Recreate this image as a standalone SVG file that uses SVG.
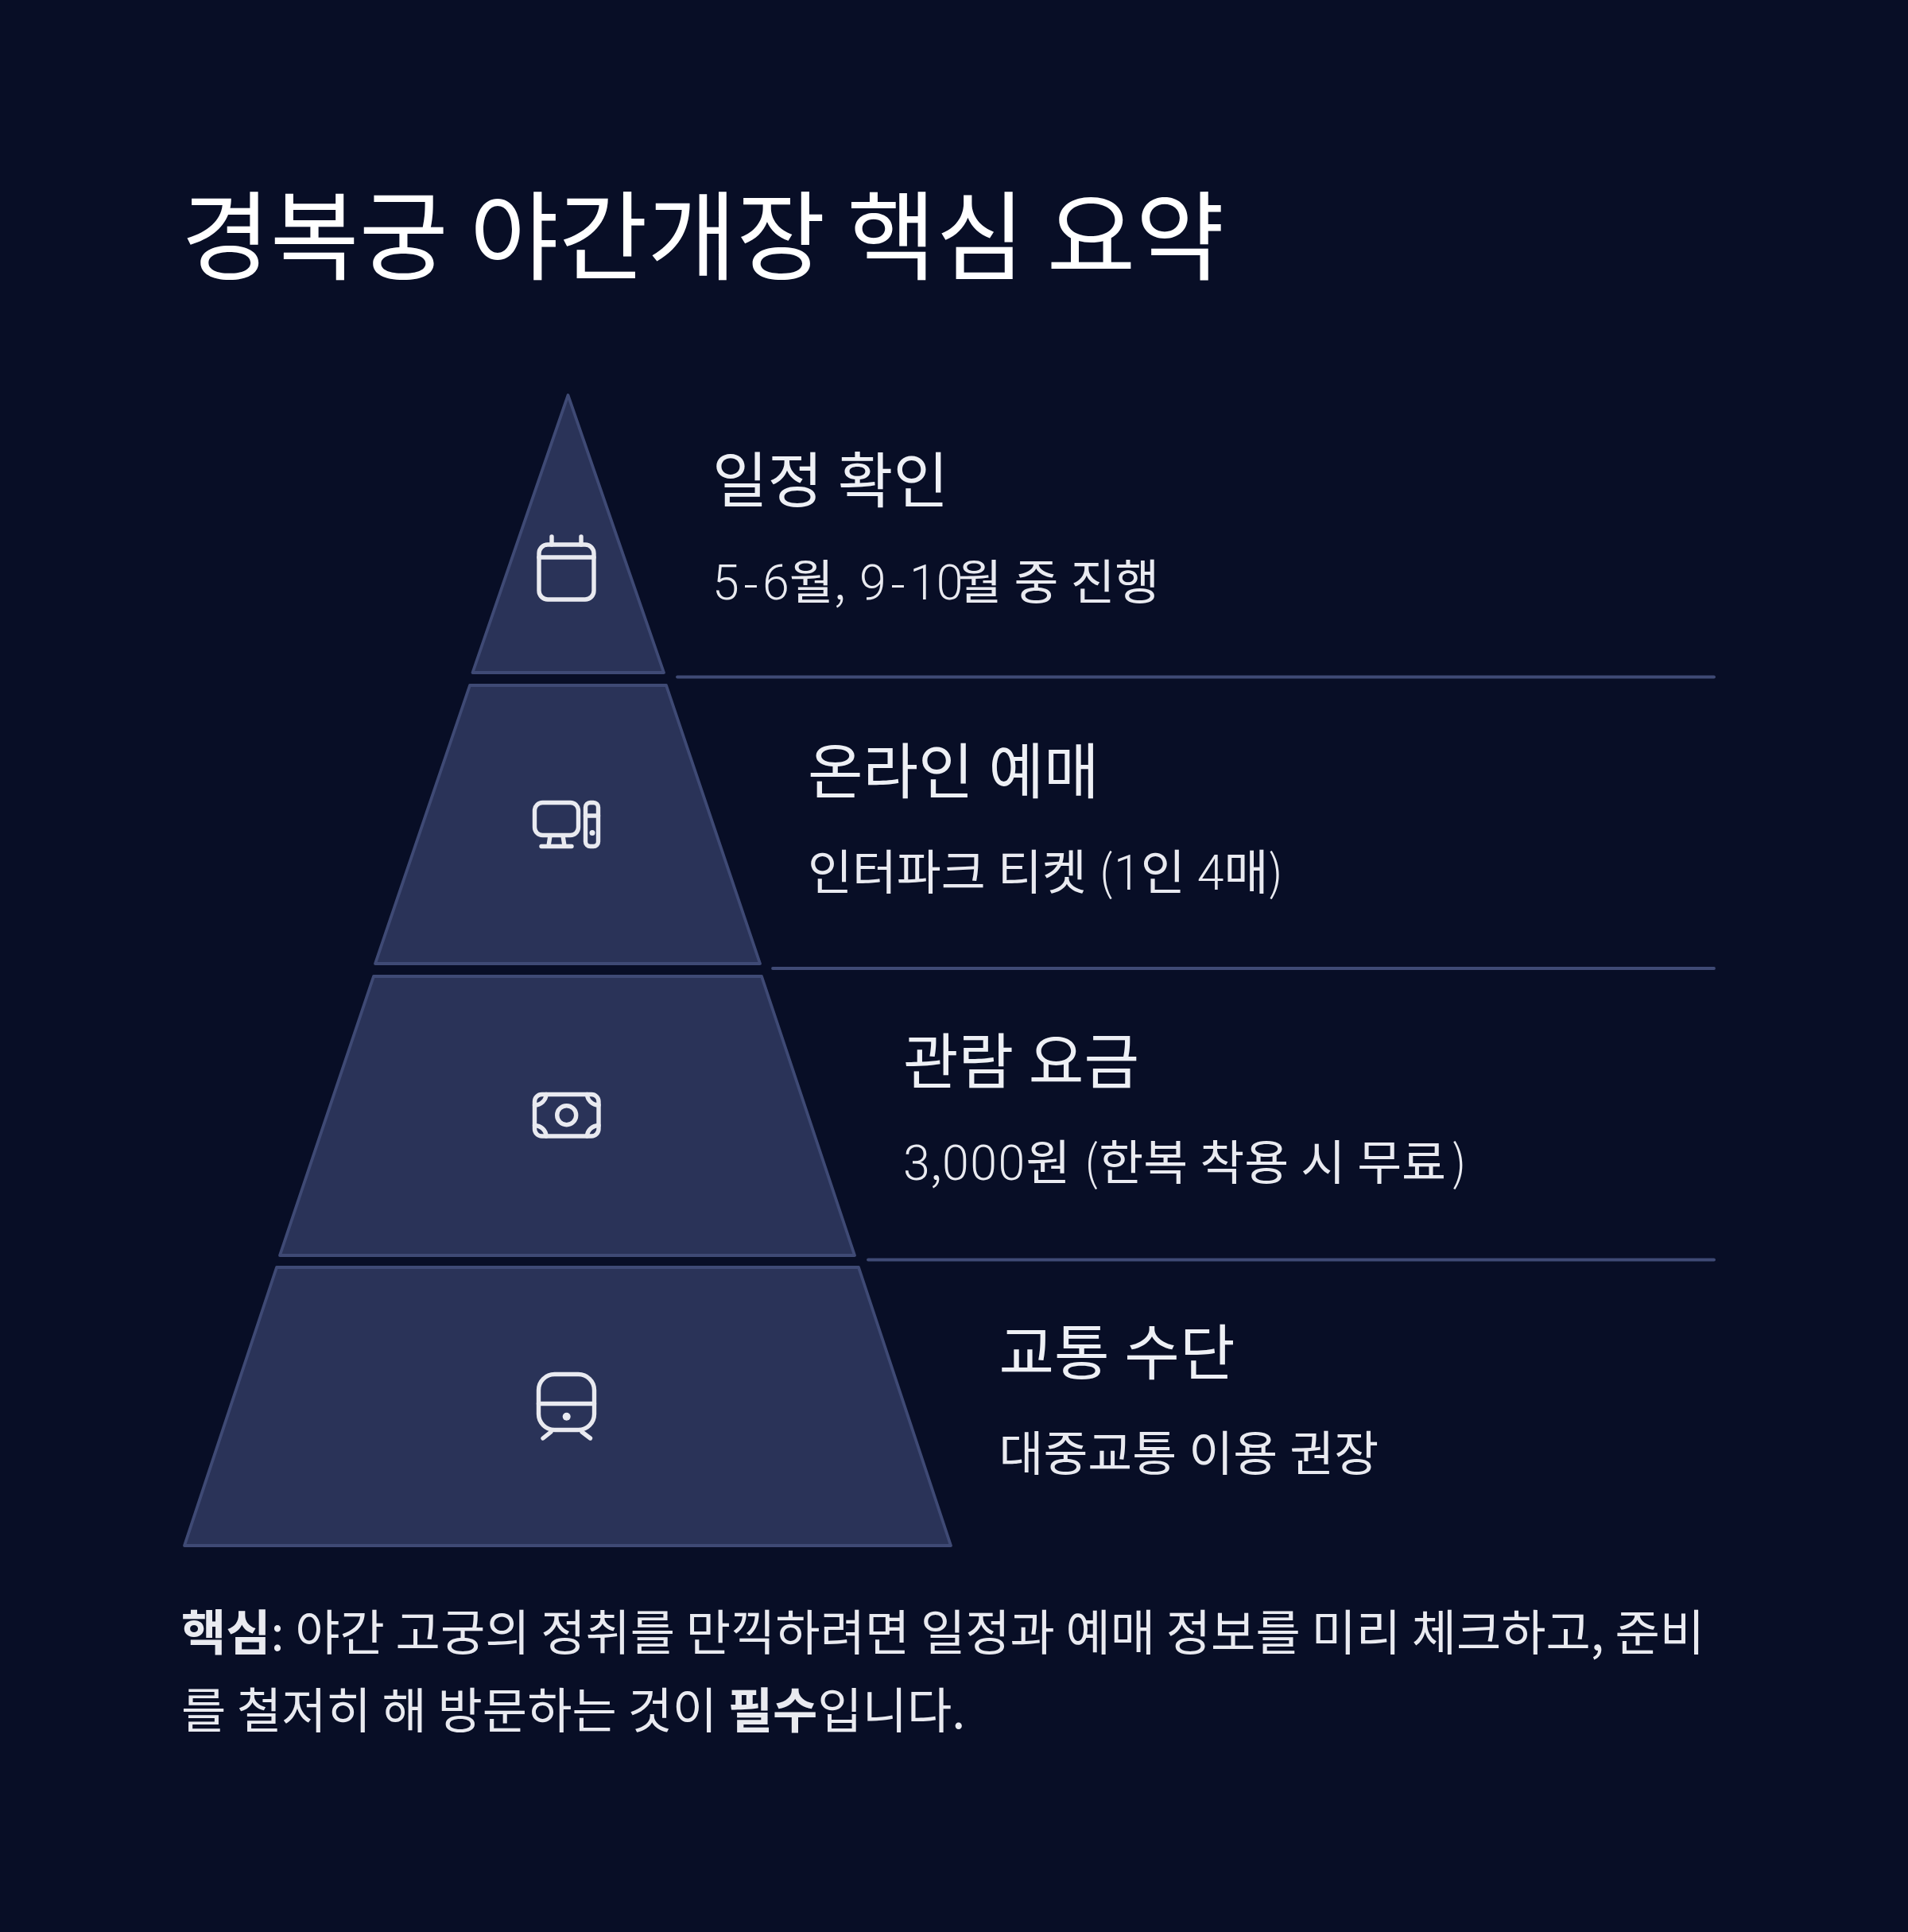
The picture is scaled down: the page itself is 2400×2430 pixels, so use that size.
<svg xmlns="http://www.w3.org/2000/svg" width="2400" height="2430" viewBox="0 0 2400 2430">
<style>
text{font-family:Roboto,"Noto Sans CJK KR",sans-serif}
.n{font-family:"Noto Sans CJK KR",sans-serif;font-weight:300}
.d{font-weight:350}
.tier{fill:#2a3358;stroke:#3f4a75;stroke-width:3.8;stroke-linejoin:round}
.ln{stroke:#3f4a75;stroke-width:3.8;stroke-linecap:round;fill:none}
.ic{fill:none;stroke:#e9eaf0;stroke-width:5.4;stroke-linecap:round;stroke-linejoin:round}
.dot{fill:#e9eaf0}
.t{font-size:121.6px;fill:#fff;font-family:"Noto Sans CJK KR",sans-serif}
.h{font-size:75.6px;fill:#eef0f5}
.s{font-size:60.8px;fill:#e9eaf0}
.b{font-size:61.2px;fill:#e9eaf0;font-family:"Noto Sans CJK KR",sans-serif}
.bb{font-weight:700}
</style>
<rect width="2400" height="2430" fill="#080e26"/>
<text class="t" x="228" y="341.5">경복궁 야간개장 핵심 요약</text>
<g id="connectors">
<line class="ln" x1="852" y1="851.5" x2="2156" y2="851.5"/>
<line class="ln" x1="972" y1="1218" x2="2156" y2="1218"/>
<line class="ln" x1="1092" y1="1584.5" x2="2156" y2="1584.5"/>
</g>
<g id="tier1">
<polygon class="tier" points="714.5,497 835,846 594.5,846"/>
<rect class="ic" x="678" y="685" width="69" height="69" rx="11"/>
<path class="ic" d="M678 701H747M694 675V685M731 675V685"/>
<text class="h" x="896" y="632">일정 확인</text>
<text class="s" x="896" y="754"><tspan class="d">5</tspan><tspan class="n" dx="4.5">-</tspan><tspan class="d" dx="4.5">6</tspan>월<tspan class="n">,</tspan> <tspan class="d" dx="2">9</tspan><tspan class="n" dx="4.5">-</tspan><tspan class="d" dx="4.5">10</tspan><tspan dx="-7">월</tspan> 중 진행</text>
</g>
<g id="tier2">
<polygon class="tier" points="591,862 838,862 956,1212 472,1212"/>
<rect class="ic" x="672.5" y="1009.5" width="55" height="41" rx="10"/>
<path class="ic" d="M692 1051L690 1064M708 1051L710 1064M681 1064.5H719"/>
<rect class="ic" x="736.5" y="1009.5" width="16" height="55" rx="6"/>
<path class="ic" d="M736.5 1026H752.5"/>
<circle class="dot" cx="745" cy="1047.5" r="3.5"/>
<text class="h" x="1016" y="998">온라인 예매</text>
<text class="s" x="1016" y="1118.5">인터파크 티켓 <tspan class="n">(</tspan><tspan class="d">1</tspan>인 <tspan class="d">4</tspan>매<tspan class="n">)</tspan></text>
</g>
<g id="tier3">
<polygon class="tier" points="470,1228 958,1228 1075,1579 352,1579"/>
<rect class="ic" x="672.5" y="1376.5" width="80.5" height="52.5" rx="9"/>
<circle class="ic" cx="712.7" cy="1402.7" r="12"/>
<path class="ic" d="M672.5 1390A15 14 0 0 0 687 1376.5M753 1390A15 14 0 0 1 738.5 1376.5M672.5 1415.5A15 14 0 0 1 687 1429M753 1415.5A15 14 0 0 0 738.5 1429"/>
<text class="h" x="1136" y="1363">관람 요금</text>
<text class="s" x="1136" y="1484"><tspan class="d">3</tspan><tspan class="n">,</tspan><tspan class="d" style="letter-spacing:1.5px">000</tspan>원 <tspan class="n" dx="1.5">(</tspan>한복 착용 시 무료<tspan class="n" dx="7">)</tspan></text>
</g>
<g id="tier4">
<polygon class="tier" points="348,1594 1080,1594 1196,1944 232,1944"/>
<rect class="ic" x="677.5" y="1728.5" width="70" height="70" rx="20"/>
<path class="ic" d="M677.5 1765.5H747.5M693 1801L683 1809M732 1801L742.5 1809"/>
<circle class="dot" cx="712.7" cy="1781.7" r="5"/>
<text class="h" x="1256.5" y="1729">교통 수단</text>
<text class="s" x="1256.5" y="1850">대중교통 이용 권장</text>
</g>
<text class="b" x="228" y="2076"><tspan class="bb">핵심</tspan>: 야간 고궁의 정취를 만끽하려면 일정과 예매 정보를 미리 체크하고, 준비</text>
<text class="b" x="228" y="2174">를 철저히 해 방문하는 것이 <tspan class="bb">필수</tspan>입니다.</text>
</svg>
